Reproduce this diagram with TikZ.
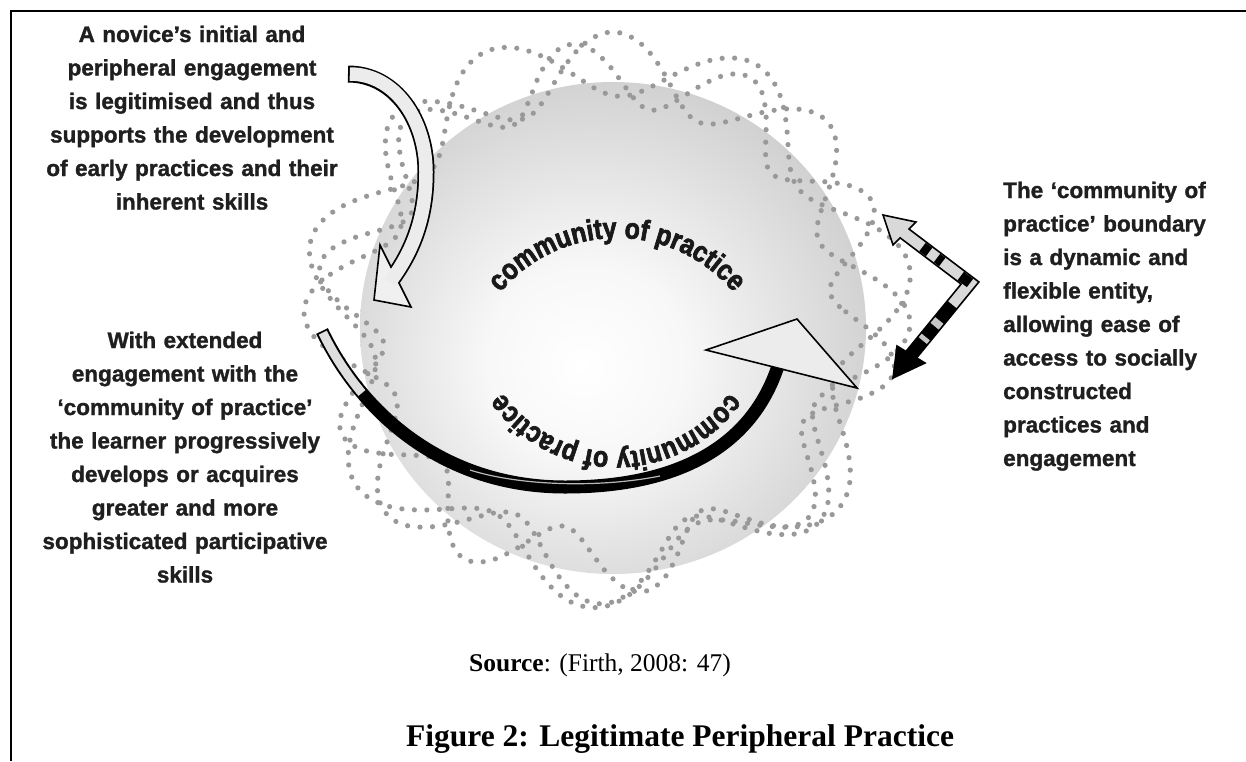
\documentclass[tikz,border=0pt]{standalone}
\usepackage{fontspec}
\setmainfont{Liberation Serif}
\newfontfamily\diagfont[BoldFeatures={FakeBold=1.3}]{Liberation Sans}
\newfontfamily\curvefam[FakeStretch=0.86, BoldFeatures={FakeBold=2.4}]{Liberation Sans}
\usetikzlibrary{decorations.text,calc}
\pgfdeclareradialshading{sphereshade}{\pgfpoint{-3bp}{-4bp}}{color(0bp)=(white); color(10bp)=(white!97!black); color(28bp)=(white!82!black); color(50bp)=(white!64!black); color(75bp)=(white!64!black)}
\newcommand{\curvefont}{\curvefam\bfseries\fontsize{29}{29}\selectfont\color{black!90}}
\begin{document}
\begin{tikzpicture}[x=1pt,y=1pt,
  lbl/.style={font=\diagfont\bfseries\fontsize{22.5}{33.5}\selectfont, text=black!88, inner sep=0pt},
  dotline/.style={draw=black!40, line width=5.2pt, line cap=round, dash pattern=on 0pt off 12.5pt},
  outl/.style={draw=black, line width=1.6pt, line join=miter},
  curvetext/.style={decorate, decoration={text along path, text align=center, text={|\curvefont|community of practice}}}
]
\useasboundingbox (0,0) rectangle (1246,-761);
\fill[white] (0,0) rectangle (1246,-761);
% frame
\draw[line width=2.2pt] (10.8,-761) -- (10.8,-10.8) -- (1246,-10.8);

% sphere
\coordinate (O) at (613,-328);
\shade[shading=sphereshade] (O) ellipse[x radius=253, y radius=246];

% dotted boundaries
\begin{scope}[shift={(607,-318)}, xscale=1.06]
\foreach \R/\A/\k/\p in {256/34/7/20, 250/36/8/100, 244/32/10/200}
  \draw[dotline] plot[smooth cycle, domain=0:357, samples=120] ({\x}:{\R+\A*sin(\k*\x+\p)});
\end{scope}

% curved texts
\path[curvetext] ($(617,-390)+(150:152)$) arc[start angle=150, end angle=30, radius=152];
\path[curvetext] ($(616,-314)+(-25:138)$) arc[start angle=-25, end angle=-155, radius=138];

% arrow 1 (novice)
\coordinate (a1s) at (348,-74);
\coordinate (a1e) at (390,-282);
\draw[line width=17pt] (a1s) .. controls (395,-74) and (426,-120) .. (426,-172) .. controls (426,-222) and (410,-255) .. (a1e);
\filldraw[fill=gray!12, outl] (380,-245) -- (374,-300) -- (411,-307) -- cycle;
\draw[line width=13.5pt, gray!15, shorten <=1.8pt] (a1s) .. controls (395,-74) and (426,-120) .. (426,-172) .. controls (426,-222) and (410,-255) .. (a1e);

% arrow 2 (extended engagement)
\coordinate (a2s) at (322,-331);
\coordinate (a2e) at (778,-366);
\draw[line width=13pt] (a2s) .. controls (365,-420) and (450,-487) .. (565,-487) .. controls (680,-487) and (752,-445) .. (a2e);
\draw[line width=9pt, gray!25, shorten <=1.8pt] (a2s) .. controls (332.75,-353.25) and (346.1,-374.1) .. (361.9,-393);
\draw[line width=1.2pt, gray!55] (470,-470) .. controls (520,-486) and (600,-488) .. (660,-476);
\filldraw[fill=gray!15, outl] (706,-350) -- (797,-319) -- (857,-388) -- cycle;

% zigzag boundary arrow
\coordinate (zA) at (904,-233);
\coordinate (zC) at (970,-283);
\coordinate (zL) at (911,-355);
\draw[line width=14pt, line join=miter] (zA) -- (zC) -- (zL);
\filldraw[fill=gray!30, outl] (883,-215) -- (916,-222) -- (893,-245) -- cycle;
\filldraw[fill=black, outl] (893,-378) -- (897,-346) -- (925,-363) -- cycle;
\draw[line width=10.5pt, gray!30, line join=miter] ($(zA)!-0.1!(zC)$) -- (zC) -- ($(zC)!0.3!(zL)$);
\foreach \a/\b in {0.28/0.38, 0.50/0.58, 0.86/1.0}
  \draw[line width=10.5pt] ($(zA)!\a!(zC)$) -- ($(zA)!\b!(zC)$);
\foreach \a/\b in {0.52/0.6, 0.75/0.8}
  \draw[line width=10.5pt, gray!45] ($(zC)!\a!(zL)$) -- ($(zC)!\b!(zL)$);

% labels
\node[lbl, text width=340pt, align=center, anchor=base] (t1) at (192,-42)
  {A novice’s initial and\\ peripheral engagement\\ is legitimised and thus\\ supports the development\\ of early practices and their\\ inherent skills};
\node[lbl, text width=340pt, align=center, anchor=base] (t2) at (185,-348)
  {With extended\\ engagement with the\\ ‘community of practice’\\ the learner progressively\\ develops or acquires\\ greater and more\\ sophisticated participative\\ skills};
\node[lbl, text width=240pt, align=left, anchor=base west] (t3) at (1003,-198)
  {The ‘community of\\ practice’ boundary\\ is a dynamic and\\ flexible entity,\\ allowing ease of\\ access to socially\\ constructed\\ practices and\\ engagement};

\node[anchor=base, font=\fontsize{25.5}{30}\selectfont, inner sep=0pt] (src) at (600,-671) {\textbf{Source}: (Firth, 2008: 47)};
\node[anchor=base, font=\bfseries\fontsize{31.5}{36}\selectfont, inner sep=0pt] (cap) at (680,-746) {Figure 2: Legitimate Peripheral Practice};
\end{tikzpicture}
\end{document}
